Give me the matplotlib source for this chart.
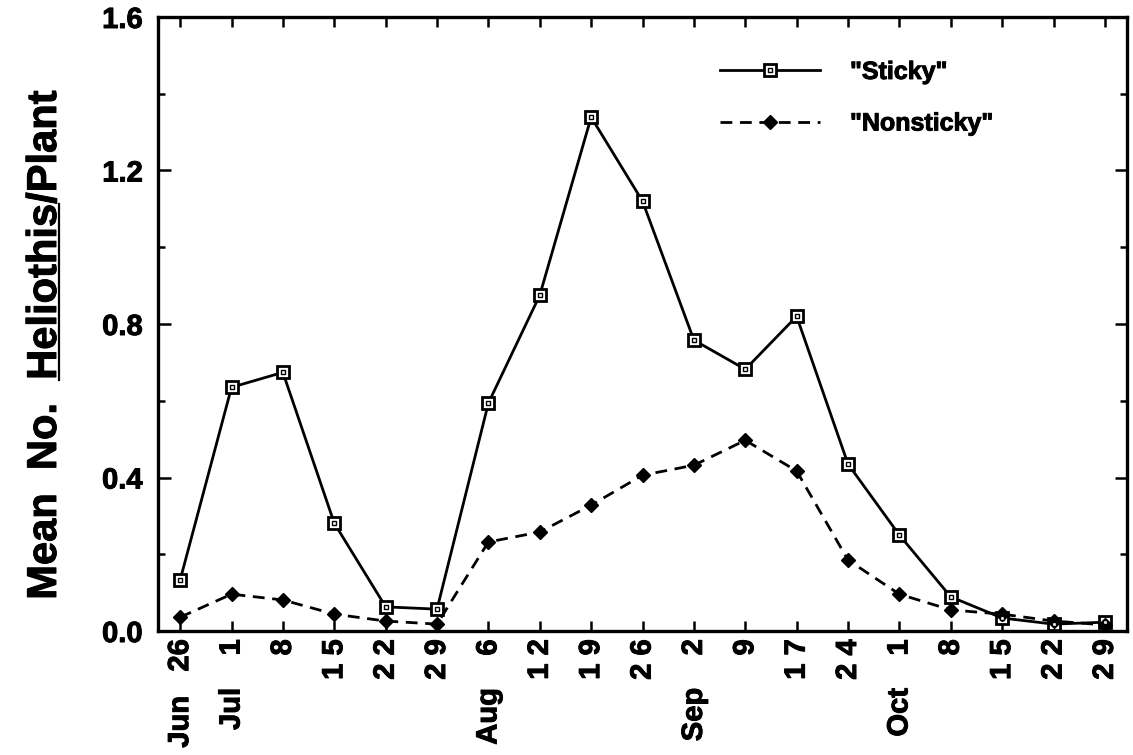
import matplotlib
matplotlib.use("Agg")
import matplotlib.pyplot as plt
import matplotlib.patheffects as pe
from matplotlib.lines import Line2D
import numpy as np

plt.rcParams['font.family'] = ['Liberation Sans', 'DejaVu Sans']
plt.rcParams['font.weight'] = 'bold'
plt.rcParams['lines.scale_dashes'] = False

# sampling dates, Jun 26 through Oct 29
dates = ["Jun   26", "Jul    1", "8", "1 5", "2 2", "2 9", "Aug    6", "1 2", "1 9",
         "2 6", "Sep    2", "9", "1 7", "2 4", "Oct    1", "8", "1 5", "2 2", "2 9"]

sticky = [0.133, 0.635, 0.674, 0.281, 0.063, 0.057, 0.594, 0.875, 1.339,
          1.120, 0.758, 0.682, 0.820, 0.435, 0.250, 0.089, 0.034, 0.018, 0.023]
nonsticky = [0.036, 0.096, 0.081, 0.044, 0.026, 0.018, 0.232, 0.258, 0.328,
             0.406, 0.432, 0.497, 0.417, 0.185, 0.096, 0.055, 0.044, 0.026, 0.016]

x = np.arange(len(dates))
heavy = [pe.withStroke(linewidth=0.7, foreground='black')]

fig = plt.figure(figsize=(11.33, 7.55), dpi=100)
ax = fig.add_axes([0.1395, 0.1642, 0.9947 - 0.1395, 0.9775 - 0.1642])

l1, = ax.plot(x, sticky, color='black', lw=2.0, marker='s', markersize=9,
              markerfacecolor='white', markeredgecolor='black', markeredgewidth=2.0,
              zorder=3)
l1dot, = ax.plot(x, sticky, ls='none', marker='s', markersize=3.2,
                 markerfacecolor='white', markeredgecolor='black', markeredgewidth=1.0,
                 zorder=4)
l2, = ax.plot(x, nonsticky, color='black', lw=2.0, dashes=(8.5, 5.5), marker='D',
              markersize=7, markerfacecolor='black', markeredgecolor='black', zorder=3)

ax.set_xlim(-0.43, 18.43)
ax.set_ylim(0, 1.6)

ax.set_xticks(x)
ax.set_xticklabels(dates, rotation=90, fontsize=21, fontweight='bold')
ax.set_yticks([0.0, 0.4, 0.8, 1.2, 1.6])
ax.set_yticklabels(["0.0", "0.4", "0.8", "1.2", "1.6"], fontsize=21, fontweight='bold')
ax.set_yticks(np.arange(0.2, 1.6, 0.4), minor=True)
for t in ax.get_xticklabels() + ax.get_yticklabels():
    t.set_path_effects(heavy)

ax.tick_params(axis='x', which='both', direction='in', top=True, length=7, width=1.8, pad=6)
ax.tick_params(axis='y', which='major', direction='in', right=True, length=9, width=1.8, pad=11)
ax.tick_params(axis='y', which='minor', direction='in', right=True, length=5, width=1.8)

for s in ax.spines.values():
    s.set_linewidth(2.4)

leg = ax.legend([(l1, l1dot), l2], ['"Sticky"', '"Nonsticky"'], loc='upper left',
                bbox_to_anchor=(0.58, 0.93), frameon=False, borderpad=0, borderaxespad=0,
                handlelength=4.0, handletextpad=1.2, labelspacing=1.1,
                prop={'size': 18, 'weight': 'bold'})
for t in leg.get_texts():
    t.set_path_effects(heavy)

# y label with the genus name underlined
ylab = fig.text(45 / 1133, 410 / 755, "Mean  No.  Heliothis/Plant", rotation=90,
                ha='center', va='center', fontsize=30, fontweight='bold',
                path_effects=heavy)
fig.canvas.draw()
r = fig.canvas.get_renderer()
prop = ylab.get_fontproperties()
bb = ylab.get_window_extent(r)
p1 = r.get_text_width_height_descent("Mean  No.  ", prop, ismath=False)[0]
p2 = r.get_text_width_height_descent("Mean  No.  Heliothis", prop, ismath=False)[0]
d = r.get_text_width_height_descent("lp", prop, ismath=False)[2]
ux = bb.x1 - d + 3
fig.add_artist(Line2D([ux / fig.bbox.width] * 2,
                      [(bb.y0 + p1) / fig.bbox.height, (bb.y0 + p2) / fig.bbox.height],
                      color='black', lw=1.6))

fig.savefig("out.png", dpi=100)
